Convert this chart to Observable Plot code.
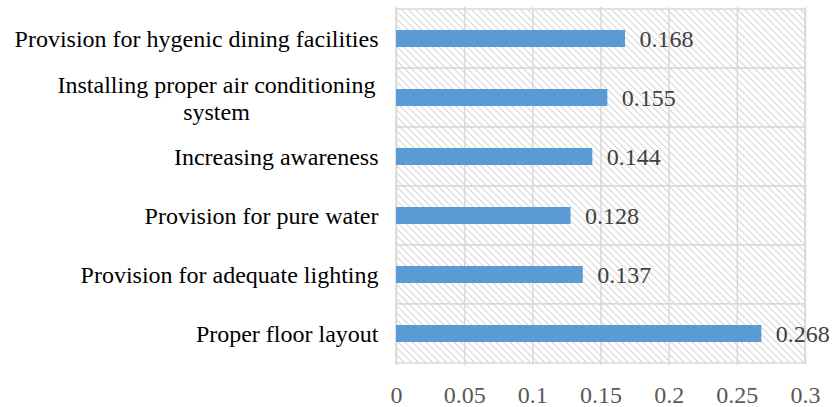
<!DOCTYPE html>
<html>
<head>
<meta charset="utf-8">
<script src="https://cdn.jsdelivr.net/npm/d3@7"></script>
<script src="https://cdn.jsdelivr.net/npm/@observablehq/plot@0.6"></script>
<style>
  html, body { margin: 0; padding: 0; background: #fff; }
</style>
</head>
<body>
<div id="chart"></div>
<script>
const categories = [
  "Provision for hygenic dining facilities",
  "Installing proper air conditioning system",
  "Increasing awareness",
  "Provision for pure water",
  "Provision for adequate lighting",
  "Proper floor layout"
];
const values = [0.168, 0.155, 0.144, 0.128, 0.137, 0.268];
const valueLabels = ["0.168", "0.155", "0.144", "0.128", "0.137", "0.268"];
const xTicks = [0, 0.05, 0.1, 0.15, 0.2, 0.25, 0.3];
const xTickLabels = ["0", "0.05", "0.1", "0.15", "0.2", "0.25", "0.3"];
const wrappedCategory = "Installing proper air conditioning system";
const wrappedLines = ["Installing proper air conditioning", "system"];

const data = categories.map((c, i) => ({cat: c, value: values[i], label: valueLabels[i]}));

const font = "'Liberation Serif', 'Times New Roman', serif";

const svg = Plot.plot({
  width: 833,
  height: 407,
  marginLeft: 396,
  marginRight: 28,
  marginTop: 7,
  marginBottom: 42,
  style: {fontFamily: font, background: "#fff"},
  x: {domain: [0, 0.3]},
  y: {domain: categories, padding: 0},
  marks: [
    Plot.barX(categories, {y: d => d, x1: 0, x2: 0.3, fill: "url(#hatch)", stroke: "#d9d9d9", strokeWidth: 1.5}),
    Plot.ruleX(xTicks, {x: d => d, stroke: "#d9d9d9", strokeWidth: 1.5}),
    Plot.barX(data, {x: "value", y: "cat", fill: "#5b9bd5", insetTop: 21, insetBottom: 21}),
    Plot.text(data, {x: "value", y: "cat", text: "label", dx: 14, textAnchor: "start", fill: "#404040", fontSize: 24}),
    Plot.axisX({ticks: xTicks, tickFormat: d => xTickLabels[xTicks.indexOf(d)], tickSize: 0, tickPadding: 20, fontSize: 24, color: "#595959", label: null}),
    Plot.axisY({tickSize: 0, tickPadding: 18, tickFormat: d => d === wrappedCategory ? "" : d, fontSize: 24, color: "#000", label: null}),
    Plot.text([wrappedCategory], {y: d => d, frameAnchor: "left", text: () => wrappedLines.join("\n"), textAnchor: "middle", dx: -180, lineHeight: 1.13, fontSize: 24, fill: "#000"})
  ]
});

d3.select(svg).insert("defs", ":first-child").html(
  '<pattern id="hatch" width="7" height="7" patternUnits="userSpaceOnUse">' +
  '<rect width="7" height="7" fill="#fff"/>' +
  '<path d="M-1,-1 L8,8 M-1,6 L1,8 M6,-1 L8,1" stroke="#d6d6d6" stroke-width="1.1"/>' +
  '</pattern>'
);

document.getElementById("chart").appendChild(svg);
</script>
</body>
</html>
